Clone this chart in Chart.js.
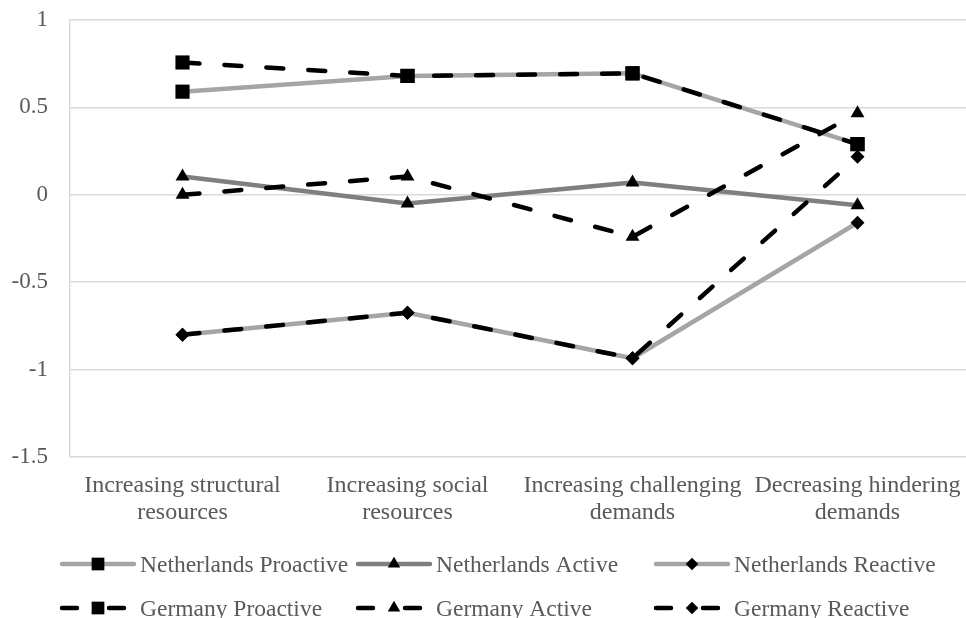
<!DOCTYPE html>
<html>
<head>
<meta charset="utf-8">
<script src="https://cdn.jsdelivr.net/npm/chart.js@4/dist/chart.umd.min.js"></script>
<style>
  html, body { margin: 0; padding: 0; background: #ffffff; overflow: hidden; }
  canvas { display: block; }
</style>
</head>
<body>
<canvas id="chart" width="980" height="618"></canvas>
<script>
// Job-crafting strategies (x axis) and the y-axis tick values
const categories = [
  ['Increasing structural', 'resources'],
  ['Increasing social', 'resources'],
  ['Increasing challenging', 'demands'],
  ['Decreasing hindering', 'demands']
];
const yTicks = [-1.5, -1, -0.5, 0, 0.5, 1];

// Series names
const seriesNames = [
  'Netherlands Proactive', 'Netherlands Active', 'Netherlands Reactive',
  'Germany Proactive', 'Germany Active', 'Germany Reactive'
];

// Mean scores per strategy
const nlProactive = [0.59, 0.68, 0.695, 0.29];
const nlActive    = [0.105, -0.05, 0.07, -0.06];
const nlReactive  = [-0.80, -0.675, -0.935, -0.16];
const deProactive = [0.757, 0.68, 0.695, 0.29];
const deActive    = [0.0, 0.105, -0.24, 0.467];
const deReactive  = [-0.80, -0.675, -0.935, 0.217];

const FONT = '"Liberation Serif", "Times New Roman", serif';
const TEXT = '#595959';
const GRID = '#d9d9d9';
const DASH = [17, 25];

function series(label, data, color, dashed, pointStyle, radius) {
  return {
    label, data,
    borderColor: color,
    borderWidth: 4.5,
    borderDash: dashed ? DASH : [],
    borderCapStyle: 'round',
    borderJoinStyle: 'round',
    tension: 0,
    fill: false,
    pointStyle,
    pointRadius: radius,
    pointHoverRadius: radius,
    pointBackgroundColor: '#000000',
    pointBorderColor: '#000000',
    pointBorderWidth: 0,
    order: dashed ? 0 : 1
  };
}

const datasets = [
  series(seriesNames[0], nlProactive, '#a5a5a5', false, 'rect', 10),
  series(seriesNames[1], nlActive,    '#7f7f7f', false, 'triangle', 8),
  series(seriesNames[2], nlReactive,  '#a5a5a5', false, 'rectRot', 7),
  series(seriesNames[3], deProactive, '#000000', true,  'rect', 10),
  series(seriesNames[4], deActive,    '#000000', true,  'triangle', 8),
  series(seriesNames[5], deReactive,  '#000000', true,  'rectRot', 7)
];

// Legend laid out as a three-column grid below the axis
const gridLegend = {
  id: 'gridLegend',
  afterDraw(chart, args, opts) {
    const ctx = chart.ctx;
    chart.data.datasets.forEach((ds, i) => {
      const cx = opts.cols[i % 3];
      const cy = opts.rows[Math.floor(i / 3)];
      ctx.save();
      ctx.strokeStyle = ds.borderColor;
      ctx.lineWidth = ds.borderWidth;
      ctx.lineCap = 'round';
      ctx.setLineDash(ds.borderDash.length ? opts.dash : []);
      ctx.beginPath();
      ctx.moveTo(cx - opts.half, cy);
      ctx.lineTo(cx + opts.half, cy);
      ctx.stroke();
      ctx.setLineDash([]);
      ctx.fillStyle = ds.pointBackgroundColor;
      ctx.strokeStyle = ds.pointBorderColor;
      Chart.helpers.drawPoint(ctx, {
        pointStyle: ds.pointStyle,
        radius: ds.pointRadius * 0.9,
        borderWidth: 0,
        rotation: 0
      }, cx, cy);
      ctx.fillStyle = TEXT;
      ctx.font = opts.font;
      ctx.textAlign = 'left';
      ctx.textBaseline = 'alphabetic';
      ctx.fillText(ds.label, cx + opts.half + opts.gap, cy + opts.baseline);
      ctx.restore();
    });
  }
};

new Chart(document.getElementById('chart'), {
  type: 'line',
  data: { labels: categories, datasets },
  plugins: [gridLegend],
  options: {
    responsive: false,
    animation: false,
    layout: { padding: { top: 20, right: 6, bottom: 81, left: 0 } },
    plugins: {
      legend: { display: false },
      tooltip: { enabled: false },
      gridLegend: {
        cols: [98, 394, 692],
        rows: [564, 608],
        half: 36,
        gap: 6,
        baseline: 7.8,
        dash: [15, 32],
        font: '23.5px ' + FONT
      }
    },
    scales: {
      x: {
        offset: true,
        grid: { display: false },
        border: { display: false },
        ticks: {
          color: TEXT,
          font: { family: FONT, size: 24, lineHeight: 1.1 },
          padding: 8,
          maxRotation: 0,
          autoSkip: false
        },
        afterFit(scale) { scale.height = 80; }
      },
      y: {
        min: -1.5,
        max: 1,
        afterBuildTicks(scale) { scale.ticks = yTicks.map(v => ({ value: v })); },
        ticks: {
          color: TEXT,
          font: { family: FONT, size: 23 },
          padding: 22,
          callback: v => String(v)
        },
        grid: { color: GRID, lineWidth: 1.5, drawTicks: false },
        border: { display: true, color: GRID, width: 1.5 },
        afterFit(scale) {
          scale.width = 70;
          scale.paddingTop = 0;
          scale.paddingBottom = 0;
        }
      }
    }
  }
});
</script>
</body>
</html>
